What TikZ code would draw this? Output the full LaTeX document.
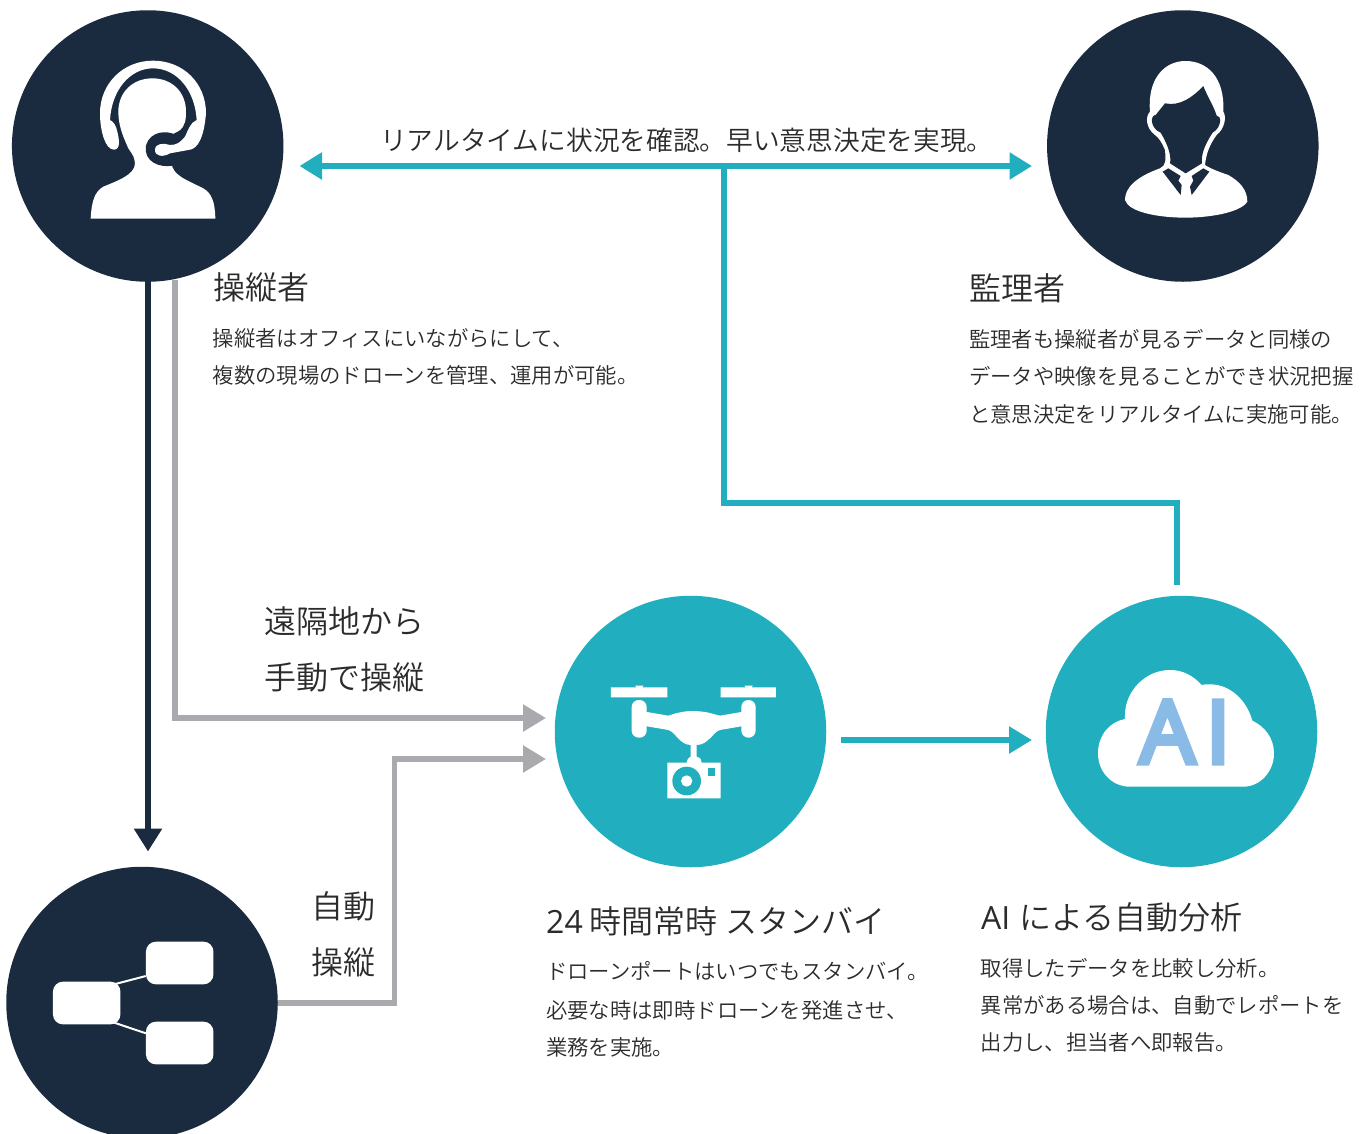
\documentclass[tikz,border=0pt]{standalone}
\usepackage{fontspec}
\usetikzlibrary{arrows.meta}
\newfontfamily\jp{Noto Sans CJK JP DemiLight}
\newfontfamily\lat{Open Sans}
\newfontfamily\latb[FakeBold=6]{Open Sans}
\definecolor{navy}{HTML}{1A2B40}
\definecolor{teal2}{HTML}{21AFBF}
\definecolor{grayline}{HTML}{A9A9AE}
\definecolor{aiblue}{HTML}{8ABBE6}
\definecolor{txt}{HTML}{2B2B2B}
\tikzset{
  bignavy/.style={circle,fill=navy,inner sep=0pt,minimum size=271.5pt},
  bigteal/.style={circle,fill=teal2,inner sep=0pt,minimum size=271.5pt},
  orgbox/.style={rectangle,rounded corners=10pt,fill=white,inner sep=0pt,minimum width=67.5pt,minimum height=42.7pt},
  titletext/.style={anchor=base west,inner sep=0pt,text=txt,font=\jp\fontsize{32}{32}\selectfont},
  bodytext/.style={anchor=base west,inner sep=0pt,text=txt,font=\jp\fontsize{21.35}{21.35}\selectfont},
  tealline/.style={draw=teal2,line width=6pt},
  grayarrow/.style={draw=grayline,line width=5.5pt,-{Triangle[length=23pt,width=26pt]}},
  zoomed/.style={x=0.33333pt,y=-0.33333pt},
}
\begin{document}
\begin{tikzpicture}[x=1pt,y=-1pt,line join=miter]
\useasboundingbox (0,0) rectangle (1370,1133);
% named free ends
\coordinate (leftend) at (299.5,166);
\coordinate (rightend) at (1032,166);
\coordinate (branch) at (724,166);
\coordinate (cloudup) at (1177,585);
\coordinate (navyend) at (148,851.5);
\coordinate (navystart) at (148,280);
\coordinate (manualstart) at (175,280);
\coordinate (manualend) at (546,718);
\coordinate (autostart) at (277,1003);
\coordinate (autoend) at (546,759);
\coordinate (droneout) at (841,740);
\coordinate (droneoutend) at (1032,740);
% connectors
\draw[grayarrow] (manualstart) |- (manualend);
\draw[grayarrow] (autostart) -- (394.5,1003) |- (autoend);
\draw[draw=navy,line width=6pt,-{Triangle[length=23pt,width=27pt]}] (navystart) -- (navyend);
\draw[tealline,{Triangle[length=22.5pt,width=26pt]}-{Triangle[length=22.5pt,width=26pt]}] (leftend) -- (rightend);
\draw[tealline,line width=5.5pt] (branch) |- (1177,503) -- (cloudup);
\draw[tealline,line width=5.5pt,-{Triangle[length=23pt,width=26pt]}] (droneout) -- (droneoutend);
% circles
\node[bignavy] (operator) at (147.7,146) {};
\node[bignavy] (supervisor) at (1182.8,146) {};
\node[bigteal] (drone) at (690.5,731.5) {};
\node[bigteal] (ai) at (1181.5,731.5) {};
\node[bignavy] (manage) at (142,1002.5) {};
% headset icon
\begin{scope}[zoomed]
\fill[white] (272,656) .. controls (275,600) and (285,575) .. (310,560)
  .. controls (350,543) and (405,525) .. (405,490)
  .. controls (402,470) and (402,470) .. (385,445)
  .. controls (372,415) and (355,380) .. (355,335)
  .. controls (355,275) and (400,235) .. (457,235)
  .. controls (515,235) and (558,275) .. (558,335)
  .. controls (558,360) and (555,380) .. (540,400)
  -- (510,410) -- (480,410) -- (450,430) -- (445,450) -- (455,475) -- (480,490) -- (515,488)
  .. controls (515,525) and (560,540) .. (610,565)
  .. controls (635,580) and (645,605) .. (646,656) -- cycle;
\draw[navy,line width=8.3pt,line cap=round] (565,375) .. controls (560,395) and (545,405) .. (520,415)
  .. controls (500,405) and (460,405) .. (450,440)
  .. controls (445,475) and (480,490) .. (515,485);
\fill[white] (330,360) .. controls (335,270) and (390,205) .. (459,205)
  .. controls (530,205) and (585,270) .. (590,360)
  .. controls (570,368) and (565,390) .. (555,410)
  .. controls (540,428) and (530,435) .. (510,435)
  .. controls (490,428) and (465,430) .. (465,450)
  .. controls (465,470) and (490,472) .. (510,460)
  -- (565,450)
  .. controls (595,448) and (612,410) .. (618,340)
  .. controls (618,250) and (550,182) .. (459,182)
  .. controls (370,182) and (300,250) .. (300,340)
  .. controls (300,390) and (315,449) .. (342,449)
  .. controls (362,448) and (358,420) .. (352,395)
  .. controls (348,375) and (340,365) .. (330,360) -- cycle;
\end{scope}
% supervisor icon
\begin{scope}[zoomed,shift={(3120,0)}]
\fill[white] (255,600) .. controls (255,565) and (285,532) .. (360,505)
  .. controls (378,497) and (378,480) .. (375,450)
  .. controls (365,425) and (355,412) .. (345,405)
  .. controls (318,385) and (315,350) .. (330,335)
  .. controls (322,240) and (370,183) .. (437,183)
  .. controls (500,183) and (555,230) .. (550,335)
  .. controls (560,350) and (555,385) .. (530,405)
  .. controls (500,445) and (497,480) .. (495,495)
  .. controls (510,505) and (535,515) .. (565,525)
  .. controls (600,545) and (622,570) .. (622,605)
  .. controls (600,640) and (500,653) .. (437,653)
  .. controls (350,653) and (265,635) .. (255,600) -- cycle;
\fill[navy] (347,345) -- (375,310)
  .. controls (420,320) and (460,290) .. (490,258)
  .. controls (500,285) and (522,320) .. (530,347)
  .. controls (545,345) and (546,382) .. (518,398)
  .. controls (490,440) and (483,470) .. (486,490)
  -- (437,520) -- (390,490)
  .. controls (394,470) and (387,440) .. (362,398)
  .. controls (330,385) and (330,345) .. (347,345) -- cycle;
\fill[navy] (368,515) -- (385,505) -- (422,528) -- (415,542) -- (425,555) -- (422,585) -- cycle;
\fill[navy] (508,515) -- (490,505) -- (455,528) -- (460,542) -- (450,560) -- (455,585) -- cycle;
\end{scope}
% drone icon
\begin{scope}[zoomed,shift={(1740,1950)}]
\fill[white] (93,112) rectangle (262,142) (422,112) rectangle (588,142);
\fill[white] (166,107) arc[start angle=180,end angle=0,radius=12] -- cycle;
\fill[white] (494,107) arc[start angle=180,end angle=0,radius=12] -- cycle;
\fill[white,rounded corners=7pt] (155,150) rectangle (200,263);
\fill[white,rounded corners=7pt] (484,150) rectangle (527,263);
\fill[white] (195,185) -- (265,197) .. controls (300,185) and (320,183) .. (342,183)
  .. controls (385,185) and (390,190) .. (420,197) -- (490,185) -- (490,228) -- (420,240)
  .. controls (400,245) and (385,285) .. (350,285) -- (350,320)
  .. controls (362,323) and (365,330) .. (365,338) -- (422,338) -- (422,445) -- (262,445) -- (262,338) -- (320,338)
  .. controls (322,325) and (328,322) .. (332,320) -- (332,285)
  .. controls (300,285) and (285,245) .. (265,240) -- (195,228) -- cycle;
\fill[teal2] (320,393) circle[radius=43];
\fill[white] (320,393) circle[radius=17];
\fill[teal2] (384,355) rectangle (406,378);
\end{scope}
% cloud icon
\begin{scope}[zoomed,shift={(3240,1950)}]
\fill[white] (150,410) -- (490,410) .. controls (540,410) and (582,365) .. (582,310)
  .. controls (582,265) and (555,230) .. (517,212)
  .. controls (500,150) and (450,103) .. (390,103)
  .. controls (380,103) and (372,103) .. (365,105)
  .. controls (340,78) and (310,60) .. (270,60)
  .. controls (195,60) and (135,125) .. (135,195) -- (135,207)
  .. controls (90,215) and (54,255) .. (54,310)
  .. controls (54,365) and (95,410) .. (150,410) -- cycle;
\end{scope}
\node[anchor=base,inner sep=0pt,text=aiblue,font=\latb\fontsize{87}{87}\selectfont] (ailabel) at (1185,763) {A\kern 11pt I};
% org icon
\node[orgbox] (orga) at (86.7,1003) {};
\node[orgbox] (orgb) at (179.7,963) {};
\node[orgbox] (orgc) at (179.7,1043) {};
\draw[white,line width=2pt,shorten <=-6pt] (orga.31) -- (orgb.201);
\draw[white,line width=2pt,shorten <=-6pt] (orga.-33) -- (orgc.164);
% texts
\node[anchor=base west,inner sep=0pt,text=txt,font=\jp\fontsize{26.7}{26.7}\selectfont] (toplabel) at (380,150) {リアルタイムに状況を確認。早い意思決定を実現。};
\node[titletext] (t1) at (213,299) {操縦者};
\node[bodytext] (b1a) at (212.5,346) {操縦者はオフィスにいながらにして、};
\node[bodytext] (b1b) at (212.5,383) {複数の現場のドローンを管理、運用が可能。};
\node[titletext] (t2) at (969,300) {監理者};
\node[bodytext] (b2a) at (969,347) {監理者も操縦者が見るデータと同様の};
\node[bodytext] (b2b) at (969,384) {データや映像を見ることができ状況把握};
\node[bodytext] (b2c) at (969,422) {と意思決定をリアルタイムに実施可能。};
\node[titletext] (m1) at (264,633) {遠隔地から};
\node[titletext] (m2) at (264,689) {手動で操縦};
\node[titletext,anchor=base east] (a1) at (375.5,918) {自動};
\node[titletext,anchor=base east] (a2) at (375.5,974) {操縦};
\node[titletext] (t3) at (546,933) {{\lat 24} 時間常時 スタンバイ};
\node[bodytext] (b3a) at (546,979) {ドローンポートはいつでもスタンバイ。};
\node[bodytext] (b3b) at (546,1018) {必要な時は即時ドローンを発進させ、};
\node[bodytext] (b3c) at (546,1055) {業務を実施。};
\node[titletext] (t4) at (981,929) {{\lat AI}\kern 2pt{} による自動分析};
\node[bodytext] (b4a) at (980.5,976) {取得したデータを比較し分析。};
\node[bodytext] (b4b) at (980.5,1013) {異常がある場合は、自動でレポートを};
\node[bodytext] (b4c) at (980.5,1050) {出力し、担当者へ即報告。};
\end{tikzpicture}
\end{document}
